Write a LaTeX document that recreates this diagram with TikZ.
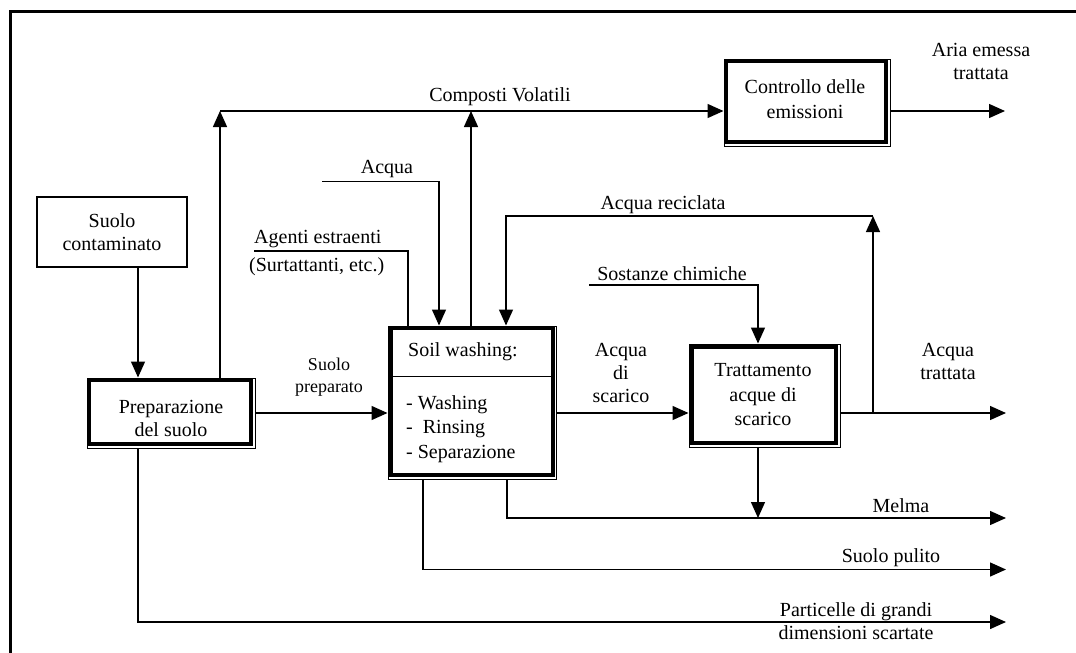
\documentclass[tikz,border=0pt]{standalone}
\usepackage{fontspec}
\setmainfont{Liberation Serif}
\usetikzlibrary{arrows.meta}
\tikzset{
  ln/.style={line width=1.4pt},
  arr/.style={ln,-{Triangle[length=16pt,width=14pt]}},
  txt/.style={inner sep=0pt,font=\fontsize{20}{23}\selectfont,align=center},
  plainbox/.style={draw,line width=1.4pt,inner sep=0pt},
  outerbox/.style={draw,line width=1pt,inner sep=0pt},
  innerthick/.style={line width=4pt},
  framestyle/.style={line width=3pt}
}
\begin{document}
\begin{tikzpicture}[x=1pt,y=-1pt]
\fill[white] (0,0) rectangle (1076,653);
\useasboundingbox (0,0) rectangle (1076,653);
\draw[framestyle] (10,653) -- (10,11) -- (1076,11);

% boxes
\node[plainbox,minimum width=150pt,minimum height=70pt,txt] (sc) at (112,232) {Suolo\\contaminato};
\node[outerbox,minimum width=168pt,minimum height=70pt] (prep) at (171,413) {};
\node[outerbox,minimum width=168pt,minimum height=153pt] (sw) at (472,402.5) {};
\node[outerbox,minimum width=151pt,minimum height=103pt] (tr) at (764.5,395.5) {};
\node[outerbox,minimum width=166pt,minimum height=87pt] (ctrl) at (807,102.5) {};

% box texts
\node[txt] (lPrep) at (171,418) {Preparazione\\del suolo};
\node[txt,anchor=west] (lSW) at (408,352) {Soil washing:};
\node[txt,anchor=west,align=left,font=\fontsize{20}{24.5}\selectfont] (lSWl) at (406,429) {- Washing\\-\ \ Rinsing\\- Separazione};
\node[txt,font=\fontsize{20}{24.5}\selectfont] (lTr) at (763,395) {Trattamento\\acque di\\scarico};
\node[txt,font=\fontsize{20}{25}\selectfont] (lCtrl) at (805,99) {Controllo delle\\emissioni};

% thick inner borders
\draw[innerthick] ([shift={(2,2)}]prep.north west) rectangle ([shift={(-5,-5)}]prep.south east);
\draw[innerthick] ([shift={(3.5,2)}]sw.north west) rectangle ([shift={(-4,-5)}]sw.south east);
\draw[innerthick] ([shift={(3,3)}]tr.north west) rectangle ([shift={(-5,-5)}]tr.south east);
\draw[innerthick] ([shift={(2,2)}]ctrl.north west) rectangle ([shift={(-5,-5)}]ctrl.south east);
\draw[ln] ([shift={(3.5,51)}]sw.north west) -- ([shift={(-4,51)}]sw.north east);

% helper coordinates
\coordinate (xA) at (138,0);
\coordinate (xB) at (220,0);
\coordinate (xC) at (471,0);
\coordinate (xD) at (439,0);
\coordinate (xE) at (408,0);
\coordinate (xF) at (507,0);
\coordinate (xG) at (758,0);
\coordinate (xH) at (873,0);
\coordinate (xI) at (423,0);
\coordinate (yM) at (0,413);
\coordinate (volL) at (220,111);
\coordinate (ariaEnd) at (1005,111);
\coordinate (acquaStart) at (322,181.5);
\coordinate (agentiStart) at (254,251);
\coordinate (sostStart) at (589,285);
\coordinate (recTop) at (873,216);
\coordinate (recLeft) at (506,216);
\coordinate (trattEnd) at (1006,413);
\coordinate (melmaEnd) at (1006,518);
\coordinate (pulitoEnd) at (1006,569.5);
\coordinate (partEnd) at (1006,622);

% connectors
\draw[arr] (sc.south -| xA) -- (prep.north -| xA);
\draw[arr] (prep.north -| xB) -- (volL);
\draw[arr] (volL) -- (ctrl.west |- volL);
\draw[arr] (sw.north -| xC) -- (xC |- volL);
\draw[arr] (ctrl.east |- volL) -- (ariaEnd);
\draw[arr] (acquaStart) -| (sw.north -| xD);
\draw[ln] (agentiStart) -| (sw.north -| xE);
\draw[arr] (prep.east |- yM) -- (sw.west |- yM);
\draw[arr] (sw.east |- yM) -- (tr.west |- yM);
\draw[arr] (tr.east |- yM) -- (trattEnd);
\draw[arr] (xH |- yM) -- (recTop);
\draw[arr] (recTop) -- (recLeft) -- (sw.north -| recLeft);
\draw[arr] (sostStart) -| (tr.north -| xG);
\draw[arr] (tr.south -| xG) -- (xG |- melmaEnd);
\draw[arr] (sw.south -| xF) |- (melmaEnd);
\draw[arr] (sw.south -| xI) |- (pulitoEnd);
\draw[arr] (prep.south -| xA) |- (partEnd);

% labels
\node[txt] (lVol) at (500,97) {Composti Volatili};
\node[txt] (lAria) at (981,61) {Aria emessa\\trattata};
\node[txt] (lAcqua) at (387,169) {Acqua};
\node[txt,anchor=west] (lAg1) at (254,239) {Agenti estraenti};
\node[txt,anchor=west] (lAg2) at (249,267) {(Surtattanti, etc.)};
\node[txt] (lRec) at (663,205) {Acqua reciclata};
\node[txt] (lSost) at (672,274) {Sostanze chimiche};
\node[txt,font=\fontsize{18}{22}\selectfont] (lSP) at (329,377) {Suolo\\preparato};
\node[txt] (lAS) at (621,373) {Acqua\\di\\scarico};
\node[txt] (lAT) at (948,361) {Acqua\\trattata};
\node[txt] (lMel) at (901,506) {Melma};
\node[txt] (lPul) at (891,558) {Suolo pulito};
\node[txt] (lPart) at (856,621) {Particelle di grandi\\dimensioni scartate};
\end{tikzpicture}
\end{document}
